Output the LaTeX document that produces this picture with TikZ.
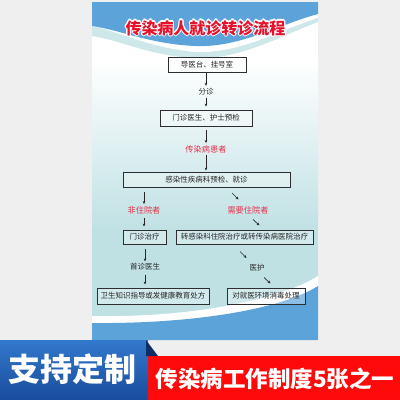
\documentclass[tikz,border=0pt]{standalone}
\usepackage{fontspec}
\newfontfamily\cjk{Noto Sans CJK SC}
\usetikzlibrary{arrows.meta}
\definecolor{pageBg}{HTML}{EFEFEF}
\definecolor{skyBlue}{HTML}{5CA3DA}
\definecolor{paleCyan}{HTML}{C0E1E4}
\definecolor{bandCyan}{HTML}{B9DDE0}
\definecolor{boxLine}{HTML}{2E2E2E}
\definecolor{txtGray}{HTML}{262626}
\definecolor{redTxt}{HTML}{E8304A}
\definecolor{titleRed}{HTML}{E8102A}
\definecolor{banBlueTop}{HTML}{3278CC}
\definecolor{banBlueBot}{HTML}{1A4C9C}
\definecolor{banRed}{HTML}{FF0A0A}
\definecolor{foldBlue}{HTML}{102E66}
\tikzset{
  flowbox/.style={draw=boxLine,line width=0.9pt,fill=white,fill opacity=0.3,text opacity=1,
    text=txtGray,font=\cjk\fontsize{7.5}{8}\selectfont,inner sep=0pt,anchor=center},
  plain/.style={text=txtGray,font=\cjk\fontsize{7.5}{8}\selectfont,inner sep=1pt},
  redlab/.style={text=redTxt,font=\cjk\fontsize{8.2}{9}\selectfont,inner sep=1pt},
  titlefont/.style={font=\cjk\bfseries\fontsize{16}{18}\selectfont,inner sep=0pt},
  arr/.style={-{Stealth[length=3pt,width=2.6pt]},line width=0.7pt,black!85}
}
\begin{document}
\begin{tikzpicture}[x=1pt,y=-1pt]
\useasboundingbox (0,0) rectangle (400,400);
\fill[pageBg] (0,0) rectangle (400,400);
% poster body
\fill[white] (92,2) rectangle (318,60);
\shade[top color=white,bottom color=paleCyan] (92,60) rectangle (318,230);
\fill[paleCyan] (92,229.5) rectangle (318,340);
% header
\fill[bandCyan!70!white] (92,26) .. controls (120,32) and (150,48) .. (195,52) .. controls (240,54) and (280,30) .. (318,18) -- (318,22) .. controls (280,36) and (240,60) .. (195,58) .. controls (150,56) and (120,40) .. (92,36) -- cycle;
\fill[skyBlue] (92,2) -- (318,2) -- (318,14) .. controls (280,24) and (240,48) .. (195,46) .. controls (150,44) and (120,30) .. (92,26) -- cycle;
% bottom wave
\fill[white] (92,316) .. controls (190,318) and (280,300) .. (318,276) -- (318,340) -- (92,340) -- cycle;
\fill[skyBlue] (92,323) .. controls (190,324) and (280,310) .. (318,286) -- (318,340) -- (92,340) -- cycle;
% title with white outline
\foreach \dx/\dy in {1.2/0,-1.2/0,0/1.2,0/-1.2,0.85/0.85,-0.85/0.85,0.85/-0.85,-0.85/-0.85}
  \node[titlefont,text=white] at (205.5+\dx,28+\dy) {传染病人就诊转诊流程};
\node[titlefont,text=titleRed] (title) at (205.5,28) {传染病人就诊转诊流程};
% flow nodes
\node[flowbox,minimum width=78pt,minimum height=15pt] (b1) at (207,64.5) {导医台、挂号室};
\node[plain] (fz) at (206,92) {分诊};
\node[flowbox,minimum width=92pt,minimum height=16pt] (b2) at (206,118) {门诊医生、护士预检};
\node[redlab] (hz) at (206,149) {传染病患者};
\node[flowbox,minimum width=167pt,minimum height=15pt] (k) at (206.5,179.5) {感染性疾病科预检、就诊};
\node[redlab] (nz) at (144,210) {非住院者};
\node[redlab] (xz) at (248,210) {需要住院者};
\node[flowbox,minimum width=43pt,minimum height=14pt] (mz) at (144.5,237) {门诊治疗};
\node[flowbox,minimum width=137pt,minimum height=14pt] (zy) at (244.5,237) {转感染科住院治疗或转传染病医院治疗};
\node[plain] (sz) at (145,267) {首诊医生};
\node[plain] (yh) at (257,268) {医护};
\node[flowbox,minimum width=112pt,minimum height=16pt] (ws) at (153,296) {卫生知识指导或发健康教育处方};
\node[flowbox,minimum width=78pt,minimum height=16pt] (dj) at (266,296) {对就医环境消毒处理};
% arrows
\draw[arr] ([yshift=-1pt]b1.south -| fz) -- ([yshift=1.5pt]fz.north);
\draw[arr] ([yshift=-1pt]fz.south) -- ([yshift=3pt]b2.north -| fz);
\draw[arr] ([yshift=-4pt]b2.south -| hz) -- ([yshift=1pt]hz.north);
\draw[arr] ([yshift=-1pt]hz.south) -- ([yshift=1pt]k.north -| hz);
\draw[arr] ([yshift=-5pt]k.south -| nz) -- ([yshift=1pt]nz.north);
\draw[arr] ([yshift=-3pt]nz.south) -- ([yshift=3pt]mz.north -| nz);
\draw[arr] ([yshift=-5pt]mz.south -| sz) -- ([yshift=1pt]sz.north);
\draw[arr] ([yshift=-3pt]sz.south) -- ([yshift=3pt]ws.north -| sz);
\coordinate (d1a) at (232,193); \coordinate (d1b) at (238.5,199.5);
\coordinate (d2a) at (253,219.5); \coordinate (d2b) at (259.5,225.5);
\coordinate (d3a) at (240,251.5); \coordinate (d3b) at (246.5,258);
\coordinate (d4a) at (264,277.5); \coordinate (d4b) at (270.5,283.5);
\draw[arr] (d1a) -- (d1b);
\draw[arr] (d2a) -- (d2b);
\draw[arr] (d3a) -- (d3b);
\draw[arr] (d4a) -- (d4b);
% banner
\fill[banRed] (148,356) rectangle (400,400);
\shade[top color=banBlueTop,bottom color=banBlueBot] (0,340) rectangle (148,400);
\fill[foldBlue] (146,340) -- (158,356) -- (146,356) -- cycle;
\node[text=white,font=\cjk\bfseries\fontsize{32}{34}\selectfont,inner sep=0pt] (ban1) at (73,369) {支持定制};
\node[text=white,font=\cjk\bfseries\fontsize{22.5}{24}\selectfont,inner sep=0pt] (ban2) at (275,379) {传染病工作制度5张之一};
\end{tikzpicture}
\end{document}
